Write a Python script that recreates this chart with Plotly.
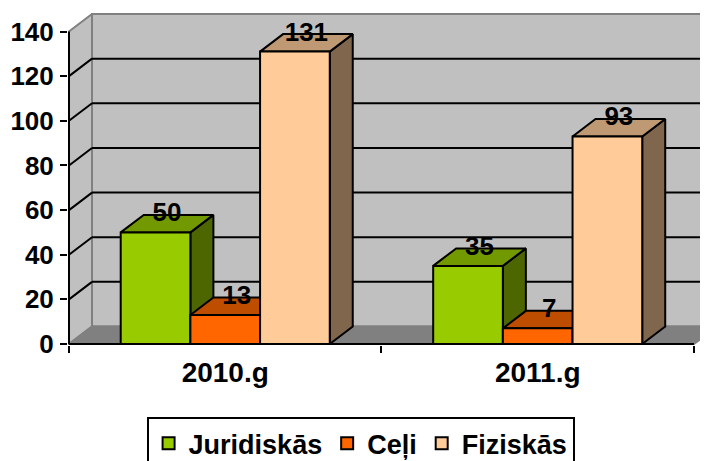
import plotly.graph_objects as go

# ---- data ----
categories = ["2010.g", "2011.g"]
series_names = ["Juridiskās", "Ceļi", "Fiziskās"]
juridiskas = [50, 35]
celi = [13, 7]
fiziskas = [131, 93]
y_tick_values = [0, 20, 40, 60, 80, 100, 120, 140]

series_values = [juridiskas, celi, fiziskas]

# ---- style ----
front_colors = ["#99CC00", "#FF6600", "#FFCC99"]
top_colors = ["#739900", "#BF4D00", "#BF9973"]
side_colors = ["#4D6600", "#803300", "#80664D"]
FONT = "Liberation Sans, Arial, sans-serif"
FS_TICK = 26
FS_CAT = 28
FS_LEG = 27

# pseudo-3D geometry in axis units
Y_TOP = 140
DX = 0.0736     # depth offset along x (category units)
DY = 7.84       # depth offset along y (value units)
GROUP = 0.669   # width of a group of bars within one category
BW = GROUP / len(series_names)
N = len(categories)

fig = go.Figure()

shapes = []
wall_fill = "#C0C0C0"
edge = "#808080"
# left wall
shapes.append(dict(type="path", xref="x", yref="y", layer="below",
                   path=f"M 0 0 L 0 {Y_TOP} L {DX} {Y_TOP+DY} L {DX} {DY} Z",
                   fillcolor=wall_fill, line=dict(color=edge, width=2)))
# back wall
shapes.append(dict(type="path", xref="x", yref="y", layer="below",
                   path=f"M {DX} {DY} L {N+DX} {DY} L {N+DX} {Y_TOP+DY} L {DX} {Y_TOP+DY} Z",
                   fillcolor=wall_fill, line=dict(color=edge, width=2)))
# floor
shapes.append(dict(type="path", xref="x", yref="y", layer="below",
                   path=f"M 0 0 L {N} 0 L {N+DX} {DY} L {DX} {DY} Z",
                   fillcolor="#808080", line=dict(color=edge, width=2)))
# gridlines on back & left wall
for v in y_tick_values[1:-1]:
    shapes.append(dict(type="line", xref="x", yref="y", layer="below",
                       x0=DX, x1=N + DX, y0=v + DY, y1=v + DY,
                       line=dict(color="black", width=2)))
    shapes.append(dict(type="line", xref="x", yref="y", layer="below",
                       x0=0, x1=DX, y0=v, y1=v + DY,
                       line=dict(color="black", width=2)))

# bars as 3D prisms: for each bar draw side, top, front
for i in range(N):
    for j, name in enumerate(series_names):
        v = series_values[j][i]
        x0 = i + 0.5 - GROUP / 2 + j * BW
        x1 = x0 + BW
        outline = dict(color="black", width=2)
        fig.add_trace(go.Scatter(
            x=[x1, x1 + DX, x1 + DX, x1, x1], y=[0, DY, v + DY, v, 0],
            fill="toself", fillcolor=side_colors[j], mode="lines", line=outline,
            showlegend=False, hoverinfo="skip"))
        fig.add_trace(go.Scatter(
            x=[x0, x1, x1 + DX, x0 + DX, x0], y=[v, v, v + DY, v + DY, v],
            fill="toself", fillcolor=top_colors[j], mode="lines", line=outline,
            showlegend=False, hoverinfo="skip"))
        fig.add_trace(go.Scatter(
            x=[x0, x1, x1, x0, x0], y=[0, 0, v, v, 0],
            fill="toself", fillcolor=front_colors[j], mode="lines", line=outline,
            showlegend=False, name=name, hovertemplate=f"{name}: {v}<extra></extra>"))

# data labels
lab_x, lab_y, lab_t = [], [], []
for i in range(N):
    for j in range(len(series_names)):
        v = series_values[j][i]
        x0 = i + 0.5 - GROUP / 2 + j * BW
        lab_x.append(x0 + BW / 2 + DX / 2)
        lab_y.append(v + DY)
        lab_t.append(str(v))
fig.add_trace(go.Scatter(x=lab_x, y=lab_y, text=lab_t, mode="text",
                         textposition="middle center",
                         textfont=dict(family=FONT, size=FS_TICK, color="black", weight="bold"),
                         showlegend=False, hoverinfo="skip"))

# front axis lines
shapes.append(dict(type="line", xref="x", yref="y", layer="above",
                   x0=0, x1=0, y0=0, y1=Y_TOP, line=dict(color="black", width=2)))
shapes.append(dict(type="line", xref="x", yref="y", layer="above",
                   x0=0, x1=N, y0=0, y1=0, line=dict(color="black", width=2)))

# legend-only entries
for j, name in enumerate(series_names):
    fig.add_trace(go.Bar(x=[None], y=[None], name=name,
                         marker=dict(color=front_colors[j], line=dict(color="black", width=2))))

# note: the page body adds an 8px offset, margins compensate for it
fig.update_layout(
    width=708, height=461,
    margin=dict(l=60, r=8, t=5, b=124, pad=0, autoexpand=False),
    paper_bgcolor="white", plot_bgcolor="white",
    shapes=shapes,
    font=dict(family=FONT, size=FS_TICK, color="black", weight="bold"),
    showlegend=True,
    legend=dict(orientation="h", xref="container", yref="container",
                x=0.498, xanchor="center", y=0.1125, yanchor="top",
                bordercolor="black", borderwidth=2, bgcolor="white",
                font=dict(family=FONT, size=FS_LEG, color="black", weight="bold"),
                itemwidth=30, tracegroupgap=0),
    xaxis=dict(range=[-0.0032, 2.045], showgrid=False, zeroline=False, showline=False,
               automargin=False,
               tickvals=[0.5, 1.5], ticktext=categories, ticks="",
               ticklabelstandoff=8,
               tickfont=dict(family=FONT, size=FS_CAT, color="black", weight="bold"),
               minor=dict(tickvals=[0, 1, 2], ticks="outside", ticklen=7,
                          tickwidth=2, tickcolor="black", showgrid=False),
               fixedrange=True),
    yaxis=dict(range=[-0.45, 148.3], showgrid=False, zeroline=False, showline=False,
               automargin=False,
               tickvals=y_tick_values, ticks="outside", ticklen=7, tickwidth=2,
               tickcolor="black", ticklabelstandoff=1,
               tickfont=dict(family=FONT, size=FS_TICK, color="black", weight="bold"),
               fixedrange=True),
)

fig.write_html("out.html")
